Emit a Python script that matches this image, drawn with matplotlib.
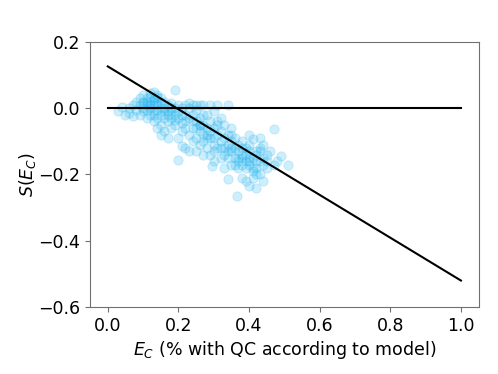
import matplotlib
matplotlib.use("Agg")
import matplotlib.pyplot as plt
import numpy as np

# Scatter data: E_C (fraction with QC according to model) and S(E_C)
ec = [0.03, 0.04, 0.05, 0.06, 0.06, 0.07, 0.07, 0.08, 0.08, 0.09, 0.09, 0.09,
      0.10, 0.10, 0.10, 0.10, 0.11, 0.11, 0.11, 0.12, 0.12, 0.12, 0.12, 0.13,
      0.13, 0.13, 0.13, 0.13, 0.14, 0.14, 0.14, 0.14, 0.14, 0.15, 0.15, 0.15,
      0.15, 0.15, 0.16, 0.16, 0.16, 0.16, 0.17, 0.17, 0.17, 0.17, 0.18, 0.18,
      0.18, 0.18, 0.19, 0.19, 0.19, 0.19, 0.20, 0.20, 0.20, 0.20, 0.21, 0.21,
      0.21, 0.21, 0.22, 0.22, 0.22, 0.22, 0.23, 0.23, 0.23, 0.23, 0.24, 0.24,
      0.24, 0.24, 0.25, 0.25, 0.25, 0.25, 0.26, 0.26, 0.26, 0.26, 0.27, 0.27,
      0.27, 0.27, 0.28, 0.28, 0.28, 0.29, 0.29, 0.29, 0.29, 0.30, 0.30, 0.30,
      0.30, 0.31, 0.31, 0.31, 0.32, 0.32, 0.32, 0.32, 0.33, 0.33, 0.33, 0.34,
      0.34, 0.34, 0.35, 0.35, 0.35, 0.35, 0.36, 0.36, 0.365, 0.37, 0.37, 0.37,
      0.38, 0.38, 0.38, 0.39, 0.39, 0.39, 0.40, 0.40, 0.40, 0.41, 0.41, 0.41,
      0.42, 0.42, 0.42, 0.43, 0.43, 0.43, 0.44, 0.44, 0.44, 0.45, 0.45, 0.47,
      0.46, 0.47, 0.48, 0.51, 0.49, 0.40, 0.43, 0.41,
      0.11, 0.12, 0.13, 0.14, 0.10, 0.11, 0.12, 0.13, 0.14, 0.15, 0.16, 0.17,
      0.18, 0.20, 0.22, 0.24, 0.26, 0.28, 0.30, 0.32, 0.34, 0.23, 0.25, 0.27,
      0.29, 0.31, 0.33, 0.35, 0.36, 0.37, 0.38, 0.39, 0.40, 0.41, 0.42, 0.43,
      0.44, 0.45, 0.34, 0.36, 0.38, 0.40, 0.42, 0.30, 0.28, 0.26, 0.21, 0.19,
      0.295, 0.34, 0.42, 0.40, 0.38, 0.33, 0.31, 0.27, 0.25, 0.35, 0.37, 0.39]
s_ec = [-0.01, 0.005, -0.02, 0.0, -0.015, 0.01, -0.025, 0.02, -0.005, 0.03, 0.01, -0.02,
        0.04, 0.02, 0.0, -0.01, 0.03, 0.01, -0.03, 0.045, 0.02, 0.0, -0.02, 0.05,
        0.03, 0.01, -0.01, -0.04, 0.04, 0.02, -0.005, -0.03, -0.06, 0.03, 0.0, -0.02,
        -0.05, -0.08, 0.02, -0.01, -0.03, -0.07, 0.01, -0.02, -0.04, -0.09, 0.015, -0.01,
        -0.03, -0.06, 0.055, 0.0, -0.02, -0.05, 0.01, -0.03, -0.09, -0.155, 0.0, -0.02,
        -0.07, -0.115, 0.01, -0.04, -0.06, -0.12, 0.0, -0.03, -0.08, -0.13, 0.01, -0.02,
        -0.06, -0.10, -0.005, -0.04, -0.09, -0.13, 0.01, -0.03, -0.07, -0.11, 0.01, -0.05,
        -0.10, -0.14, -0.02, -0.06, -0.12, 0.01, -0.04, -0.09, -0.14, -0.01, -0.06, -0.11,
        -0.16, 0.01, -0.08, -0.12, -0.03, -0.07, -0.10, -0.15, -0.05, -0.12, -0.18, -0.08,
        -0.11, -0.215, -0.06, -0.10, -0.13, -0.17, -0.09, -0.15, -0.265, -0.11, -0.13, -0.18,
        -0.10, -0.14, -0.21, -0.12, -0.16, -0.22, -0.13, -0.17, -0.235, -0.094, -0.15, -0.21,
        -0.14, -0.18, -0.24, -0.09, -0.16, -0.20, -0.11, -0.15, -0.22, -0.14, -0.18, -0.063,
        -0.13, -0.17, -0.16, -0.17, -0.145, -0.08, -0.12, -0.19,
        0.02, 0.035, 0.025, 0.01, 0.015, -0.005, 0.01, -0.02, 0.035, 0.015, 0.0, -0.01,
        0.0, -0.01, -0.02, -0.04, -0.05, -0.08, -0.09, -0.12, -0.13, 0.015, 0.01, -0.02,
        -0.07, -0.04, -0.09, -0.08, -0.12, -0.15, -0.17, -0.14, -0.15, -0.18, -0.16, -0.13,
        -0.17, -0.16, -0.15, -0.17, -0.12, -0.11, -0.2, -0.13, -0.09, -0.05, -0.045, -0.035,
        -0.175, 0.01, -0.13, -0.16, -0.15, -0.14, -0.05, -0.08, -0.06, -0.12, -0.16, -0.18]

# Reference lines
zero_x = [0.0, 1.0]
zero_y = [0.0, 0.0]
fit_x = [0.0, 1.0]
fit_y = [0.126, -0.52]

fig = plt.figure(figsize=(4.98, 3.74), dpi=100)
ax = fig.add_axes([0.181, 0.179, 0.780, 0.709])
ax.scatter(ec, s_ec, s=45, color="#22b4f0", alpha=0.22, linewidths=0.6)
ax.plot(zero_x, zero_y, color="black", lw=1.5)
ax.plot(fit_x, fit_y, color="black", lw=1.5)
ax.set_xlim(-0.05, 1.05)
ax.set_ylim(-0.6, 0.2)
ax.set_xticks([0.0, 0.2, 0.4, 0.6, 0.8, 1.0])
ax.set_yticks([-0.6, -0.4, -0.2, 0.0, 0.2])
ax.tick_params(labelsize=12.5, color="#707070")
for sp in ax.spines.values():
    sp.set_color("#707070")
ax.set_xlabel(r"$E_C$ (% with QC according to model)", fontsize=12.5, labelpad=3)
ax.set_ylabel(r"$S(E_C)$", fontsize=12.5, labelpad=0)
fig.savefig("out.png", dpi=100)
